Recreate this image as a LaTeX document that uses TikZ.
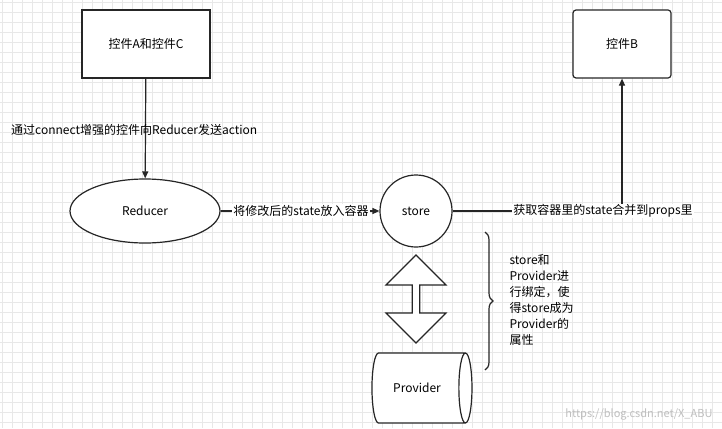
\documentclass[tikz,border=0pt]{standalone}
\usepackage{fontspec}
\setmainfont{Noto Sans CJK SC}
\usetikzlibrary{shapes.geometric,shapes.arrows,decorations.pathreplacing,arrows.meta}
\tikzset{
	box/.style={draw=black!85,line width=1.2pt,minimum width=128pt,minimum height=68pt,fill=white},
	lbl/.style={fill=white,inner sep=1pt,font=\fontsize{12}{14}\selectfont},
	conn/.style={line width=1.2pt,draw=black!85},
	grd/.style={draw=black!9,line width=0.4pt}
}
\begin{document}
\begin{tikzpicture}[x=1pt,y=-1pt,font=\fontsize{12}{14}\selectfont]
	\useasboundingbox (0,0) rectangle (722,428);
	\fill[white] (0,0) rectangle (722,428);
	\foreach \i in {0,...,72} {\draw[grd] (\i*10+2,0) -- (\i*10+2,428);}
	\foreach \j in {0,...,42} {\draw[grd] (0,\j*10+2) -- (722,\j*10+2);}
	
	\node[box] (ac) at (146,44) {控件A和控件C};
	\node[box,rounded corners=3pt,minimum width=98pt] (b) at (622,44) {控件B};
	\node[ellipse,draw=black!85,line width=1.2pt,minimum width=150pt,minimum height=64pt,fill=white] (red) at (145,211) {Reducer};
	\node[circle,draw=black!85,line width=1.2pt,minimum size=72pt,fill=white] (st) at (416,211) {store};
	\node[double arrow,draw=black!85,line width=1.2pt,rotate=90,minimum height=88pt,minimum width=60pt,double arrow head extend=18pt,inner sep=2pt,fill=white] (da) at (416,299) {};
	\node[cylinder,draw=black!85,line width=1.2pt,shape aspect=0.8,minimum width=70pt,minimum height=100pt,fill=white] (pv) at (417,388) {Provider};
	\coordinate (corner) at (622,211);
	
	\draw[conn,-{Triangle[length=7pt,width=6pt]}] (ac) -- (red);
	\draw[conn,-{Triangle[length=7pt,width=6pt]}] (red) -- (st);
	\draw[conn,-{Triangle[length=7pt,width=6pt]}] (st) -- (corner) -- (b);
	\node[lbl,fill=none,anchor=west] (l1) at (10,130) {通过connect增强的控件向Reducer发送action};
	\node[lbl] (l2) at (301,211) {将修改后的state放入容器};
	\node[lbl] (l3) at (603,211) {获取容器里的state合并到props里};
	
	\draw[conn,decorate,decoration={brace,amplitude=8pt}] (485,232) -- (485,370);
	\node[anchor=north west,align=left,font=\fontsize{12}{16}\selectfont] (txt) at (506,251) {store和\\Provider进\\行绑定，使\\得store成为\\Provider的\\属性};
	\node[anchor=south east,text=black!25,font=\fontsize{11}{12}\selectfont] (wm) at (716,424) {https://blog.csdn.net/X\_ABU};
\end{tikzpicture}
\end{document}
